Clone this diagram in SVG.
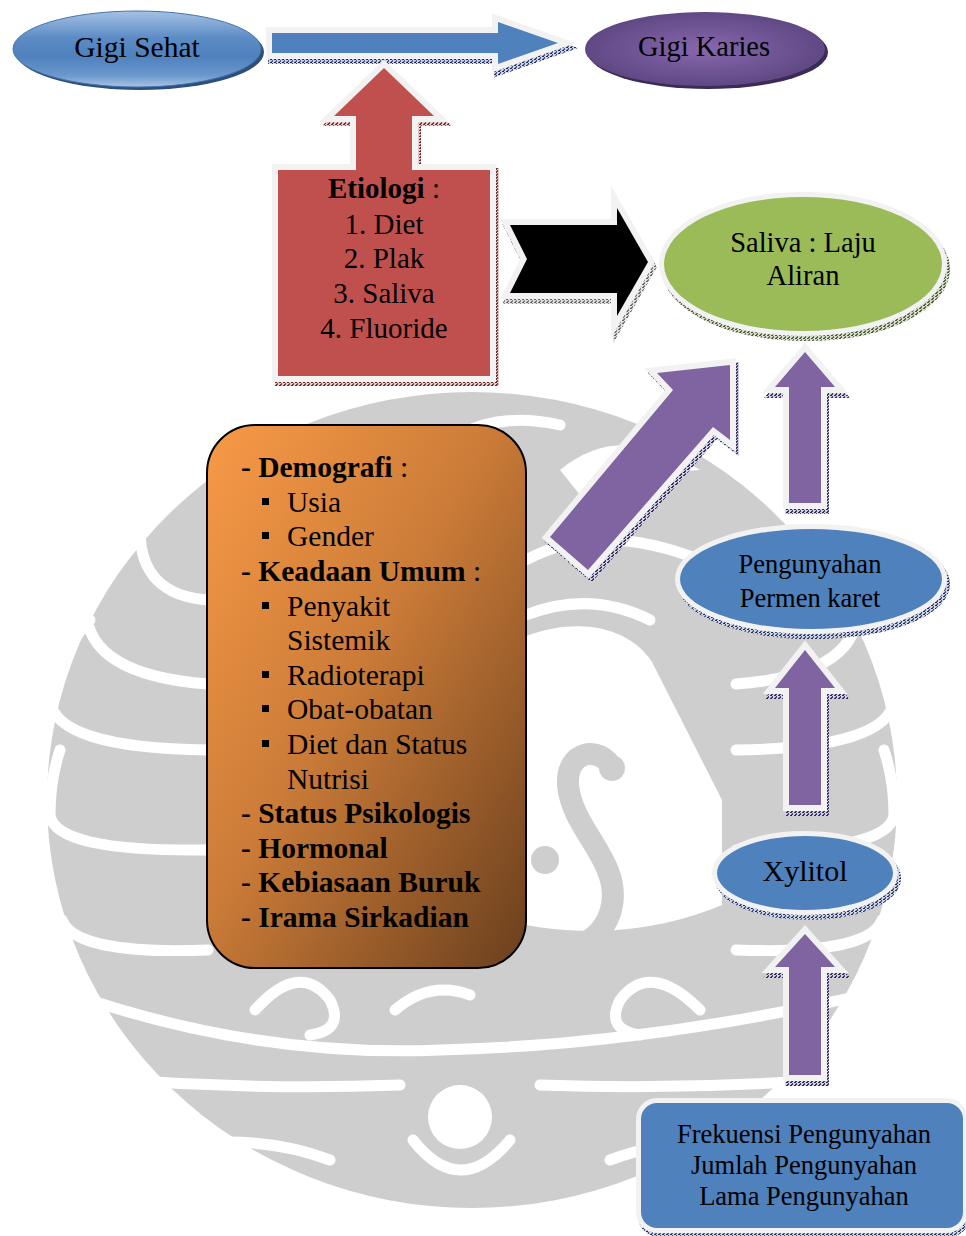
<svg xmlns="http://www.w3.org/2000/svg" xmlns:xlink="http://www.w3.org/1999/xlink" width="966" height="1236" viewBox="0 0 966 1236">
<style>
.t{font-family:"Liberation Serif","Times New Roman",serif;fill:#000;text-anchor:middle}
.l{font-family:"Liberation Serif","Times New Roman",serif;fill:#000;font-size:29.5px}
.b{font-weight:bold}
.ol{fill:none;stroke:#f2f2f2;stroke-width:12;stroke-linejoin:miter}
.sep{fill:none;stroke:#fff;stroke-width:11;stroke-linecap:round}
</style>
<defs>
<pattern id="tb" width="4" height="3" patternUnits="userSpaceOnUse"><rect width="4" height="3" fill="#cdd3e2"/><rect width="2" height="1" fill="#1f2d5c"/><rect x="2" y="1" width="1" height="1" fill="#3b4a7a"/><rect x="1" y="2" width="2" height="1" fill="#55608a"/></pattern>
<pattern id="tr" width="4" height="3" patternUnits="userSpaceOnUse"><rect width="4" height="3" fill="#e0caca"/><rect width="2" height="1" fill="#6b2a2a"/><rect x="2" y="1" width="1" height="1" fill="#8a4a4a"/><rect x="1" y="2" width="2" height="1" fill="#7a3a3a"/></pattern>
<pattern id="tg" width="4" height="3" patternUnits="userSpaceOnUse"><rect width="4" height="3" fill="#d6dacb"/><rect width="2" height="1" fill="#4d5a3a"/><rect x="2" y="1" width="1" height="1" fill="#6a7a4a"/><rect x="1" y="2" width="2" height="1" fill="#5a6a45"/></pattern>
<pattern id="tp" width="4" height="3" patternUnits="userSpaceOnUse"><rect width="4" height="3" fill="#d2d0e0"/><rect width="2" height="1" fill="#2f2a55"/><rect x="2" y="1" width="1" height="1" fill="#4a4570"/><rect x="1" y="2" width="2" height="1" fill="#3d3865"/></pattern>
<pattern id="tk" width="4" height="3" patternUnits="userSpaceOnUse"><rect width="4" height="3" fill="#e0e0e0"/><rect width="2" height="1" fill="#666"/><rect x="2" y="1" width="1" height="1" fill="#888"/><rect x="1" y="2" width="2" height="1" fill="#777"/></pattern>
<linearGradient id="gs" x1="0" y1="0" x2="0" y2="1"><stop offset="0" stop-color="#a6c1e3"/><stop offset="0.35" stop-color="#5c8cc6"/><stop offset="0.6" stop-color="#4f81bd"/><stop offset="0.85" stop-color="#6b98cd"/><stop offset="1" stop-color="#a9c4e4"/></linearGradient>
<radialGradient id="gk" cx="0.5" cy="0.5" r="0.55"><stop offset="0" stop-color="#8768ae"/><stop offset="1" stop-color="#5c4580"/></radialGradient>
<linearGradient id="go" x1="0" y1="0" x2="1" y2="1"><stop offset="0" stop-color="#f89a47"/><stop offset="0.45" stop-color="#cc7c38"/><stop offset="1" stop-color="#6a3f1d"/></linearGradient>
<path id="sA1" d="M272 33 H498 V22 L558 43 L498 64 V53 H272 Z"/>
<path id="sEt" d="M278 170 H356 V116 H334 L384 68 L434 116 H412 V170 H490 V376 H278 Z"/>
<path id="sA3" d="M510 225 H617 V208 L648 262 L617 316 V293 H510 L527 259 Z"/>
<path id="sA4" d="M550 537 L673 390 L657 373 L730 365 L730 440 L713 427 L588 570 Z"/>
<path id="sA5" d="M789 503 V387 H775 L805 352 L835 387 H821 V503 Z"/>
<path id="sA6" d="M789 805 V688 H775 L805 650 L835 688 H821 V805 Z"/>
<path id="sA7" d="M789 1075 V967 H775 L805 934 L835 967 H821 V1075 Z"/>
<ellipse id="sSal" cx="803" cy="264" rx="139" ry="67"/>
<ellipse id="sPen" cx="811" cy="579" rx="131" ry="50"/>
<ellipse id="sXy" cx="805" cy="873" rx="88" ry="37"/>
<rect id="sFr" x="641" y="1103" width="322" height="125" rx="16"/>
</defs>
<rect width="966" height="1236" fill="#fff"/>
<g id="watermark">
<ellipse cx="472" cy="800" rx="425" ry="408" fill="#cecece"/>
<path d="M526 636 C580 616 630 628 652 662 L722 800 L722 905 C650 935 580 935 526 925 Z" fill="#fff"/>
<path d="M560 470 Q620 420 700 470 Q650 470 600 520 Z" fill="#fff"/>
<g fill="none" stroke="#cecece" stroke-width="22" stroke-linecap="round">
<path d="M612 768 C600 745 566 750 568 785 C572 830 620 860 612 905 C608 928 592 942 572 948"/>
</g>
<circle cx="612" cy="768" r="13" fill="#cecece"/>
<circle cx="545" cy="860" r="14" fill="#cecece"/>
<g class="sep">
<path d="M208 600 Q140 595 140 530 Q142 480 205 440"/>
<path d="M208 684 Q88 675 86 610 Q88 560 135 520"/>
<path d="M208 750 Q55 748 50 700 Q52 660 90 620"/>
<path d="M208 850 Q55 852 50 815 Q50 780 60 750"/>
<path d="M208 950 Q75 955 62 920"/>
<path d="M330 470 Q265 470 260 420"/>
<path d="M420 470 Q470 405 560 425"/>
<path d="M526 560 Q600 520 700 560"/>
<path d="M526 615 Q590 590 650 620"/>
</g>
<g class="sep" transform="translate(944 0) scale(-1 1)">
<path d="M208 600 Q140 595 140 530 Q142 480 205 440"/>
<path d="M208 684 Q88 675 86 610 Q88 560 135 520"/>
<path d="M208 750 Q55 748 50 700 Q52 660 90 620"/>
<path d="M208 850 Q55 852 50 815 Q50 780 60 750"/>
<path d="M208 950 Q75 955 62 920"/>
</g>
<g class="sep">
<path d="M60 990 Q250 1058 440 1050 Q650 1045 885 990"/>
<path d="M120 1080 Q260 1090 400 1085"/>
<path d="M820 1080 Q680 1090 540 1085"/>
<path d="M255 1010 Q300 960 330 1000 Q345 1030 310 1035"/>
<path d="M700 1010 Q650 960 620 1000 Q605 1030 640 1035"/>
<path d="M413 1140 Q460 1200 510 1140"/>
<path d="M395 1010 Q430 980 470 995"/>
<path d="M150 1150 Q250 1130 330 1160"/>
<path d="M790 1150 Q690 1130 610 1160"/>
</g>
<circle cx="460" cy="1117" r="32" fill="#fff"/>
</g>
<g id="connectors">
<g id="arrow-sehat-karies">
<use href="#sA1" transform="translate(2 5)" fill="url(#tb)" stroke="url(#tb)" stroke-width="12"/>
<use href="#sA1" class="ol"/>
<use href="#sA1" fill="#4f81bd"/>
</g>
<g id="arrow-etiologi-saliva">
<use href="#sA3" transform="translate(2 5)" fill="url(#tk)" stroke="url(#tk)" stroke-width="12"/>
<use href="#sA3" class="ol"/>
<use href="#sA3" fill="#000"/>
</g>
<g id="arrow-faktor-saliva">
<use href="#sA4" transform="translate(3 4)" fill="url(#tp)" stroke="url(#tp)" stroke-width="12"/>
<use href="#sA4" class="ol"/>
<use href="#sA4" fill="#8064a2"/>
</g>
<g id="arrow-pengunyahan-saliva">
<use href="#sA5" transform="translate(2 5)" fill="url(#tp)" stroke="url(#tp)" stroke-width="12"/>
<use href="#sA5" class="ol"/>
<use href="#sA5" fill="#8064a2"/>
</g>
<g id="arrow-xylitol-pengunyahan">
<use href="#sA6" transform="translate(2 5)" fill="url(#tp)" stroke="url(#tp)" stroke-width="12"/>
<use href="#sA6" class="ol"/>
<use href="#sA6" fill="#8064a2"/>
</g>
<g id="arrow-frekuensi-xylitol">
<use href="#sA7" transform="translate(2 5)" fill="url(#tp)" stroke="url(#tp)" stroke-width="12"/>
<use href="#sA7" class="ol"/>
<use href="#sA7" fill="#8064a2"/>
</g>
</g>
<g id="gigi-sehat">
<ellipse cx="140" cy="52" rx="124" ry="38" fill="#2e4f79"/>
<ellipse cx="137" cy="49" rx="124" ry="38" fill="url(#gs)" stroke="#4373ad" stroke-width="1"/>
<text class="t" x="137" y="57" font-size="29.5">Gigi Sehat</text>
</g>
<g id="gigi-karies">
<ellipse cx="708" cy="52" rx="120" ry="37" fill="#3b2b55"/>
<ellipse cx="705" cy="49" rx="120" ry="37" fill="url(#gk)"/>
<text class="t" x="704" y="56" font-size="28.5">Gigi Karies</text>
</g>
<g id="etiologi">
<use href="#sEt" transform="translate(3 4)" fill="url(#tr)" stroke="url(#tr)" stroke-width="12"/>
<use href="#sEt" class="ol"/>
<use href="#sEt" fill="#c0504d"/>
<text class="t" x="384" y="198" font-size="29"><tspan class="b">Etiologi</tspan> :</text>
<text class="t" x="384" y="234" font-size="29">1. Diet</text>
<text class="t" x="384" y="268" font-size="29">2. Plak</text>
<text class="t" x="384" y="303" font-size="29">3. Saliva</text>
<text class="t" x="384" y="338" font-size="29">4. Fluoride</text>
</g>
<g id="saliva">
<use href="#sSal" transform="translate(3 5)" fill="url(#tg)" stroke="url(#tg)" stroke-width="10"/>
<use href="#sSal" fill="none" stroke="#f2f2f2" stroke-width="10"/>
<use href="#sSal" fill="#9bbb59"/>
<text class="t" x="803" y="252" font-size="28.5">Saliva : Laju</text>
<text class="t" x="803" y="285" font-size="28.5">Aliran</text>
</g>
<g id="pengunyahan">
<use href="#sPen" transform="translate(3 5)" fill="url(#tb)" stroke="url(#tb)" stroke-width="10"/>
<use href="#sPen" fill="none" stroke="#f2f2f2" stroke-width="10"/>
<use href="#sPen" fill="#4f81bd"/>
<text class="t" x="810" y="573" font-size="26.5">Pengunyahan</text>
<text class="t" x="810" y="607" font-size="26.5">Permen karet</text>
</g>
<g id="xylitol">
<use href="#sXy" transform="translate(3 5)" fill="url(#tb)" stroke="url(#tb)" stroke-width="10"/>
<use href="#sXy" fill="none" stroke="#f2f2f2" stroke-width="10"/>
<use href="#sXy" fill="#4f81bd"/>
<text class="t" x="805" y="881" font-size="30">Xylitol</text>
</g>
<g id="frekuensi">
<use href="#sFr" transform="translate(2 4)" fill="url(#tb)" stroke="url(#tb)" stroke-width="10"/>
<use href="#sFr" fill="none" stroke="#f2f2f2" stroke-width="10"/>
<use href="#sFr" fill="#4f81bd"/>
<text class="t" x="804" y="1143" font-size="26.5">Frekuensi Pengunyahan</text>
<text class="t" x="804" y="1174" font-size="26.5">Jumlah Pengunyahan</text>
<text class="t" x="804" y="1205" font-size="26.5">Lama Pengunyahan</text>
</g>
<g id="faktor">
<rect x="207" y="425" width="319" height="543" rx="48" fill="url(#go)" stroke="#000" stroke-width="2"/>
<g fill="#000">
<rect x="262" y="498" width="7" height="7"/>
<rect x="262" y="532" width="7" height="7"/>
<rect x="262" y="602" width="7" height="7"/>
<rect x="262" y="671" width="7" height="7"/>
<rect x="262" y="705" width="7" height="7"/>
<rect x="262" y="740" width="7" height="7"/>
</g>
<text class="l" x="241" y="477"><tspan class="b">- Demografi</tspan> :</text>
<text class="l" x="287" y="512">Usia</text>
<text class="l" x="287" y="546">Gender</text>
<text class="l" x="241" y="581"><tspan class="b">- Keadaan Umum</tspan> :</text>
<text class="l" x="287" y="616">Penyakit</text>
<text class="l" x="287" y="650">Sistemik</text>
<text class="l" x="287" y="685">Radioterapi</text>
<text class="l" x="287" y="719">Obat-obatan</text>
<text class="l" x="287" y="754">Diet dan Status</text>
<text class="l" x="287" y="789">Nutrisi</text>
<text class="l b" x="241" y="823">- Status Psikologis</text>
<text class="l b" x="241" y="858">- Hormonal</text>
<text class="l b" x="241" y="892">- Kebiasaan Buruk</text>
<text class="l b" x="241" y="927">- Irama Sirkadian</text>
</g>
</svg>
